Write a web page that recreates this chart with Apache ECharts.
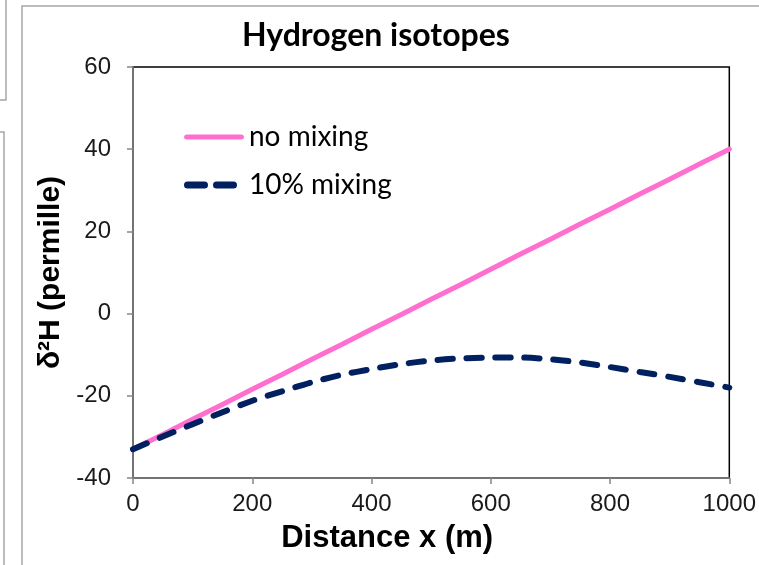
<!DOCTYPE html>
<html>
<head>
<meta charset="utf-8">
<script src="https://cdn.jsdelivr.net/npm/echarts@6/dist/echarts.min.js"></script>
<style>
  html, body { margin: 0; padding: 0; background: #fff; }
  #chart { width: 759px; height: 565px; }
</style>
</head>
<body>
<div id="chart"></div>
<script>
// Distance along the flow path (m)
const distance = [0, 50, 100, 150, 200, 250, 300, 350, 400, 450, 500,
                  550, 600, 650, 700, 750, 800, 850, 900, 950, 1000];

// δ2H (permille) without mixing
const noMixing = [-33.0, -29.4, -25.7, -22.1, -18.4, -14.8, -11.1, -7.5, -3.8, -0.2, 3.5,
                  7.1, 10.8, 14.5, 18.1, 21.8, 25.4, 29.1, 32.7, 36.4, 40.0];

// δ2H (permille) with 10% mixing
const mixing10 = [-33.0, -29.9, -26.9, -24.0, -21.2, -18.9, -16.7, -14.9, -13.5, -12.3, -11.4,
                  -10.9, -10.7, -10.7, -11.1, -11.9, -13.0, -14.2, -15.4, -16.7, -18.0];

const seriesNames = ['no mixing', '10% mixing'];
const xTicks = [0, 200, 400, 600, 800, 1000];
const yTicks = [-40, -20, 0, 20, 40, 60];

const pairs = (xs, ys) => xs.map((x, i) => [x, ys[i]]);

const pinkColor = '#ff6fcf';
const navyColor = '#002060';
const frameColor = '#a6a6a6';
const axisGray = '#868686';

// legend keys: a solid rounded bar and two rounded dashes
// (the bare moveTo points keep every key inside the same 60x7 box)
const solidKey = 'path://M2.5,1H58.5A2.5,2.5 0 0 1 58.5,6H2.5A2.5,2.5 0 0 1 2.5,1Z M0,0 M60,7';
const dashedKey = 'path://M3.5,0H20.5A3.5,3.5 0 0 1 20.5,7H3.5A3.5,3.5 0 0 1 3.5,0Z' +
                  ' M32.5,0H49.5A3.5,3.5 0 0 1 49.5,7H32.5A3.5,3.5 0 0 1 32.5,0Z M0,0 M60,7';

const chart = echarts.init(document.getElementById('chart'), null, { renderer: 'canvas' });

chart.setOption({
  animation: false,
  backgroundColor: '#ffffff',
  title: {
    text: 'Hydrogen isotopes',
    left: 237,
    top: 15,
    textStyle: {
      fontFamily: 'Lato',
      fontWeight: 'bold',
      fontSize: 32,
      color: '#000'
    }
  },
  legend: {
    orient: 'vertical',
    left: 179,
    top: 118,
    itemWidth: 60,
    itemHeight: 7,
    itemGap: 20,
    symbolKeepAspect: false,
    data: [
      { name: seriesNames[0], icon: solidKey, itemStyle: { color: pinkColor } },
      { name: seriesNames[1], icon: dashedKey, itemStyle: { color: navyColor } }
    ],
    textStyle: {
      fontFamily: 'Lato',
      fontSize: 28,
      color: '#000'
    }
  },
  grid: {
    left: 133,
    top: 67,
    right: 27,
    bottom: 87,
    show: true,
    borderColor: '#000',
    borderWidth: 1.5,
    backgroundColor: 'transparent'
  },
  xAxis: {
    type: 'value',
    min: xTicks[0],
    max: xTicks[xTicks.length - 1],
    interval: xTicks[1] - xTicks[0],
    name: 'Distance x (m)',
    nameLocation: 'middle',
    nameGap: 45,
    nameTextStyle: {
      fontFamily: 'Liberation Sans',
      fontWeight: 'bold',
      fontSize: 31,
      color: '#000',
      padding: [0, 88, 0, 0]
    },
    axisLine: { onZero: false, lineStyle: { color: axisGray, width: 1.5 } },
    axisTick: { show: true, inside: false, length: 6, lineStyle: { color: axisGray, width: 1.5 } },
    axisLabel: {
      margin: 14,
      fontFamily: 'Liberation Sans',
      fontSize: 24,
      color: '#1a1a1a',
      formatter: (v) => String(v)
    },
    splitLine: { show: false }
  },
  yAxis: {
    type: 'value',
    min: yTicks[0],
    max: yTicks[yTicks.length - 1],
    interval: yTicks[1] - yTicks[0],
    name: 'δ²H (permille)',
    nameLocation: 'middle',
    nameGap: 62,
    nameTextStyle: {
      fontFamily: 'Liberation Sans',
      fontWeight: 'bold',
      fontSize: 30,
      color: '#000'
    },
    axisLine: { show: true, onZero: false, lineStyle: { color: axisGray, width: 1.5 } },
    axisTick: { show: true, inside: false, length: 6, lineStyle: { color: axisGray, width: 1.5 } },
    axisLabel: {
      margin: 22,
      fontFamily: 'Liberation Sans',
      fontSize: 24,
      color: '#1a1a1a',
      formatter: (v) => String(v)
    },
    splitLine: { show: false }
  },
  series: [
    {
      name: seriesNames[0],
      type: 'line',
      data: pairs(distance, noMixing),
      symbol: 'none',
      color: pinkColor,
      lineStyle: { color: pinkColor, width: 5, cap: 'round' },
      z: 2
    },
    {
      name: seriesNames[1],
      type: 'line',
      data: pairs(distance, mixing10),
      symbol: 'none',
      smooth: 0.3,
      color: navyColor,
      lineStyle: { color: navyColor, width: 6, type: [15, 14], cap: 'round' },
      z: 3
    }
  ],
  graphic: [
    // surrounding slide frames
    { type: 'polyline', silent: true, z: 0,
      shape: { points: [[22, 565], [22, 6], [759, 6]] },
      style: { stroke: frameColor, lineWidth: 1.5, fill: null } },
    { type: 'polyline', silent: true, z: 0,
      shape: { points: [[0, 100], [6, 100], [6, 0]] },
      style: { stroke: frameColor, lineWidth: 1.5, fill: null } },
    { type: 'polyline', silent: true, z: 0,
      shape: { points: [[0, 132], [4, 132], [4, 565]] },
      style: { stroke: frameColor, lineWidth: 1.5, fill: null } }
  ]
});
</script>
</body>
</html>
